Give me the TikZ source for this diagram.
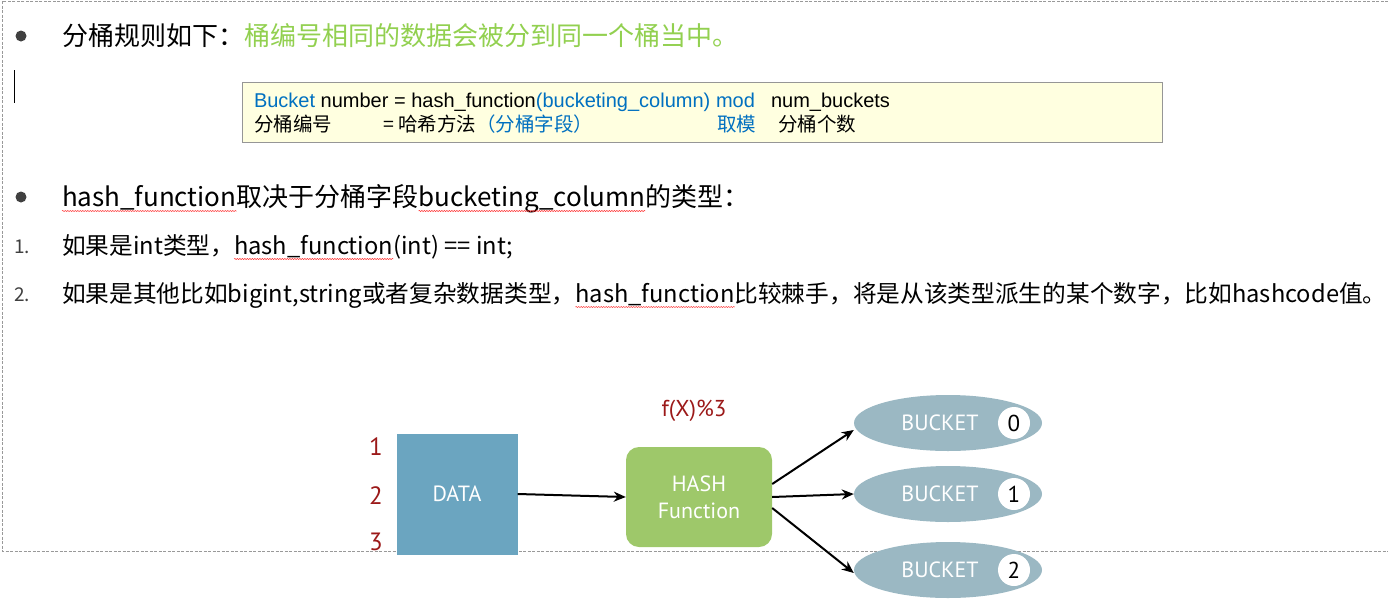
\documentclass[tikz,border=0pt]{standalone}
\usepackage{fontspec}
\setmainfont{Noto Sans CJK SC}
\newfontfamily\arialfont{Liberation Sans}
\newfontfamily\diagfont{PT Sans}
\usetikzlibrary{arrows.meta,shapes.geometric,decorations.pathmorphing}

\definecolor{rulegreen}{RGB}{146,208,80}
\definecolor{formblue}{RGB}{0,112,192}
\definecolor{boxfill}{RGB}{255,255,224}
\definecolor{boxline}{RGB}{150,150,150}
\definecolor{datablue}{RGB}{107,165,192}
\definecolor{hashgreen}{RGB}{158,200,106}
\definecolor{bucketgray}{RGB}{155,184,195}
\definecolor{darkred}{RGB}{155,25,25}
\definecolor{bulletgray}{RGB}{64,64,64}

\newcommand{\fs}[1]{\fontsize{#1}{#1}\selectfont}

\begin{document}
\begin{tikzpicture}[x=1pt,y=-1pt,
  txt/.style={anchor=base west,inner sep=0pt,outer sep=0pt},
  big/.style={txt,font=\fs{26}},
  item/.style={txt,font=\fs{23.7}},
  form/.style={txt,font=\arialfont\fs{20}},
  formcn/.style={txt,font=\fs{19.5}},
  wavy/.style={red!80,line width=0.5pt,decorate,decoration={snake,segment length=2.5pt,amplitude=0.6pt}},
  arr/.style={line width=2pt,-{Stealth[length=12pt,width=10pt]}},
  numlbl/.style={text=darkred,font=\diagfont\fs{25}},
  datablk/.style={fill=datablue,minimum width=121,minimum height=121,text=white,font=\diagfont\fs{22}},
  hashblk/.style={fill=hashgreen,rounded corners=13,minimum width=146,minimum height=100,text=white,font=\diagfont\fontsize{22}{27}\selectfont,align=center},
  bucket/.style={ellipse,fill=bucketgray,minimum width=188,minimum height=56,inner sep=0pt},
  bkttxt/.style={text=white,font=\diagfont\fs{22}},
  bktnum/.style={circle,fill=white,minimum size=32,inner sep=0pt,font=\diagfont\fs{23}}]
\useasboundingbox (0,0) rectangle (1388,613);

% slide frame
\draw[gray!80,line width=1pt,dash pattern=on 3pt off 1.5pt] (1388,1) -- (2,1) -- (2,551) -- (1388,551);
\draw[line width=1pt] (14,70) -- (14,103);

% bucket rule
\fill[bulletgray] (21,36) circle (5.5);
\node[big] (rule) at (62,45) {分桶规则如下：};
\node[big,text=rulegreen] (ruletxt) at (rule.base east) {桶编号相同的数据会被分到同一个桶当中。};

% formula box
\node[draw=boxline,fill=boxfill,anchor=north west,minimum width=920,minimum height=60,inner sep=0pt] (formula) at (242,82) {};
\node[form,text=formblue] (fa) at (254,107) {Bucket};
\node[form] (fb) at (fa.base east) {\ number = hash\_function};
\node[form,text=formblue] (fc) at (fb.base east) {(bucketing\_column)};
\node[form,text=formblue] (fd) at (716,107) {mod};
\node[form] (fe) at (771,107) {num\_buckets};
\node[formcn] (ga) at (254,131) {分桶编号};
\node[formcn] (gb) at (383,131) {= 哈希方法};
\node[formcn,text=formblue] (gc) at (gb.base east) {（分桶字段）};
\node[formcn,text=formblue] (gd) at (717,131) {取模};
\node[formcn] (ge) at (778,131) {分桶个数};

% hash_function
\fill[bulletgray] (21,197) circle (5.5);
\node[big] (ha) at (62,206) {hash\_function};
\node[big] (hb) at (ha.base east) {取决于分桶字段};
\node[big] (hc) at (hb.base east) {bucketing\_column};
\node[big] (hd) at (hc.base east) {的类型：};
\draw[wavy] ([yshift=-5]ha.base west) -- ([yshift=-5]ha.base east);
\draw[wavy] ([yshift=-5]hc.base west) -- ([yshift=-5]hc.base east);

\node[txt,font=\fs{19},text=bulletgray] at (14,253) {1.};
\node[item] (ia) at (62,254) {如果是int类型，};
\node[item] (ib) at (ia.base east) {hash\_function};
\node[item] (ic) at (ib.base east) {(int) == int;};
\draw[wavy] ([yshift=-5]ib.base west) -- ([yshift=-5]ib.base east);

\node[txt,font=\fs{19},text=bulletgray] at (14,301) {2.};
\node[item] (ja) at (62,302) {如果是其他比如bigint,string或者复杂数据类型，};
\node[item] (jb) at (ja.base east) {hash\_function};
\node[item] (jc) at (jb.base east) {比较棘手，将是从该类型派生的某个数字，比如hashcode值。};
\draw[wavy] ([yshift=-5]jb.base west) -- ([yshift=-5]jb.base east);

% diagram
\node[numlbl] at (376,447) {1};
\node[numlbl] at (376,496) {2};
\node[numlbl] at (376,542) {3};
\node[datablk] (data) at (457,494) {DATA};
\node[hashblk] (hash) at (699,497) {HASH\\Function};
\node[numlbl,font=\diagfont\fs{23}] (fx) at (694,411) {f(X)\%3};
\foreach \i/\y in {0/423,1/494,2/570} {
  \node[bucket] (b\i) at (948,\y) {};
  \node[bkttxt] at ([xshift=-8]b\i.center) {BUCKET};
  \node[bktnum] at ([xshift=66]b\i.center) {\i};
}
\draw[arr] (data.east) -- (hash.west);
\draw[arr] ([yshift=13]hash.east) -- ([yshift=-7]b0.west);
\draw[arr] (hash.east) -- (b1.west);
\draw[arr] ([yshift=-11]hash.east) -- ([yshift=-3]b2.west);

\end{tikzpicture}
\end{document}
